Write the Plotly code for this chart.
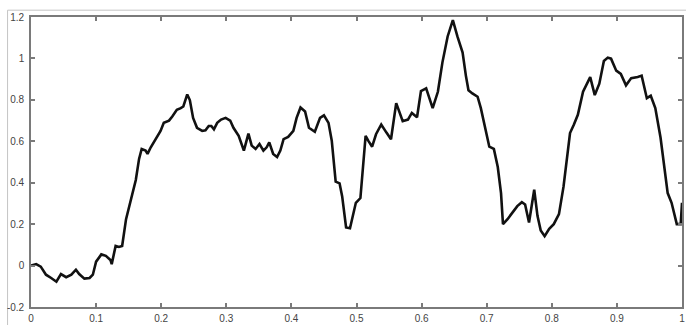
import plotly.graph_objects as go

x_vals = [
    0.000, 0.008, 0.015, 0.023, 0.031, 0.039, 0.046, 0.054, 0.062, 0.069,
    0.074, 0.082, 0.090, 0.095, 0.100, 0.108, 0.115, 0.122, 0.124, 0.130,
    0.135, 0.140, 0.146, 0.153, 0.161, 0.166, 0.170, 0.176, 0.179, 0.184,
    0.192, 0.199, 0.204, 0.212, 0.217, 0.224, 0.230, 0.234, 0.240, 0.244,
    0.249, 0.255, 0.263, 0.268, 0.273, 0.277, 0.281, 0.286, 0.292, 0.299,
    0.306, 0.311, 0.319, 0.327, 0.334, 0.339, 0.345, 0.351, 0.357, 0.362,
    0.366, 0.372, 0.378, 0.383, 0.388, 0.395, 0.403, 0.408, 0.414, 0.421,
    0.427, 0.436, 0.444, 0.450, 0.457, 0.462, 0.468, 0.474, 0.478, 0.484,
    0.490, 0.499, 0.506, 0.514, 0.518, 0.524, 0.530, 0.538, 0.546, 0.553,
    0.561, 0.566, 0.571, 0.579, 0.585, 0.593, 0.599, 0.607, 0.612, 0.617,
    0.625, 0.632, 0.640, 0.648, 0.655, 0.663, 0.668, 0.672, 0.678, 0.686,
    0.691, 0.698, 0.704, 0.711, 0.717, 0.722, 0.725, 0.732, 0.739, 0.747,
    0.754, 0.759, 0.765, 0.773, 0.778, 0.783, 0.789, 0.796, 0.803, 0.811,
    0.818, 0.822, 0.828, 0.834, 0.840, 0.848, 0.853, 0.859, 0.866, 0.873,
    0.880, 0.886, 0.891, 0.899, 0.906, 0.914, 0.922, 0.932, 0.938, 0.942,
    0.946, 0.952, 0.959, 0.967, 0.973, 0.978, 0.984, 0.992, 0.998, 1.000,
]

y_vals = [
    0.000, 0.007, -0.005, -0.044, -0.060, -0.078, -0.041, -0.056, -0.044, -0.020,
    -0.041, -0.063, -0.060, -0.044, 0.019, 0.054, 0.047, 0.027, 0.007, 0.095,
    0.090, 0.095, 0.224, 0.319, 0.413, 0.515, 0.563, 0.555, 0.539, 0.571,
    0.610, 0.650, 0.689, 0.700, 0.720, 0.752, 0.760, 0.768, 0.826, 0.799,
    0.713, 0.665, 0.650, 0.653, 0.674, 0.674, 0.658, 0.689, 0.705, 0.713,
    0.700, 0.665, 0.626, 0.555, 0.637, 0.579, 0.563, 0.587, 0.555, 0.571,
    0.595, 0.539, 0.524, 0.555, 0.610, 0.621, 0.650, 0.713, 0.763, 0.744,
    0.665, 0.646, 0.713, 0.725, 0.689, 0.603, 0.405, 0.397, 0.334, 0.184,
    0.180, 0.303, 0.326, 0.626, 0.603, 0.574, 0.634, 0.681, 0.642, 0.610,
    0.784, 0.737, 0.697, 0.705, 0.737, 0.716, 0.842, 0.855, 0.808, 0.760,
    0.839, 0.981, 1.106, 1.185, 1.106, 1.028, 0.917, 0.846, 0.831, 0.815,
    0.760, 0.665, 0.574, 0.563, 0.476, 0.350, 0.200, 0.224, 0.255, 0.287,
    0.306, 0.295, 0.208, 0.366, 0.240, 0.169, 0.142, 0.177, 0.200, 0.248,
    0.381, 0.490, 0.640, 0.681, 0.728, 0.839, 0.870, 0.910, 0.823, 0.878,
    0.988, 1.004, 0.999, 0.941, 0.925, 0.870, 0.905, 0.910, 0.917, 0.855,
    0.808, 0.820, 0.760, 0.618, 0.476, 0.350, 0.303, 0.200, 0.200, 0.303,
]

x_ticks = [0, 0.1, 0.2, 0.3, 0.4, 0.5, 0.6, 0.7, 0.8, 0.9, 1.0]
x_tick_labels = ["0", "0.1", "0.2", "0.3", "0.4", "0.5", "0.6", "0.7", "0.8", "0.9", "1"]
y_ticks = [-0.2, 0, 0.2, 0.4, 0.6, 0.8, 1.0, 1.2]
y_tick_labels = ["-0.2", "0", "0.2", "0.4", "0.6", "0.8", "1", "1.2"]

tick_font = dict(family="Liberation Sans Narrow, Liberation Sans, DejaVu Sans Condensed, sans-serif",
                 size=10, color="#444444")

fig = go.Figure()
fig.add_trace(go.Scatter(
    x=x_vals, y=y_vals, mode="lines",
    line=dict(color="#111111", width=2.6),
    hoverinfo="skip", showlegend=False,
))

axis_common = dict(
    showgrid=False, zeroline=False,
    showline=True, linecolor="#7a7a7a", linewidth=1.6,
    mirror="ticks", ticks="inside", ticklen=4, tickwidth=1.6, tickcolor="#7a7a7a",
    tickfont=tick_font, ticklabeloverflow="allow",
)

fig.update_layout(
    width=686, height=325,
    margin=dict(l=31, r=1, t=17, b=12, pad=0),
    paper_bgcolor="white", plot_bgcolor="white",
    xaxis=dict(range=[0, 1], tickmode="array", tickvals=x_ticks, ticktext=x_tick_labels,
               ticklabelstandoff=1, **axis_common),
    yaxis=dict(range=[-0.2, 1.2], tickmode="array", tickvals=y_ticks, ticktext=y_tick_labels,
               ticklabelstandoff=3, **axis_common),
    shapes=[
        dict(type="line", xref="paper", yref="paper", x0=-0.036, x1=1.2, y0=1.0235, y1=1.0235,
             line=dict(color="#c4c4c4", width=1), layer="below"),
        dict(type="line", xref="paper", yref="paper", x0=-0.036, x1=-0.036, y0=-0.2, y1=1.0235,
             line=dict(color="#c4c4c4", width=1), layer="below"),
    ],
)

fig.write_html("out.html", config={"displayModeBar": False},
               post_script="document.body.style.margin='0';document.body.style.overflow='hidden';")
